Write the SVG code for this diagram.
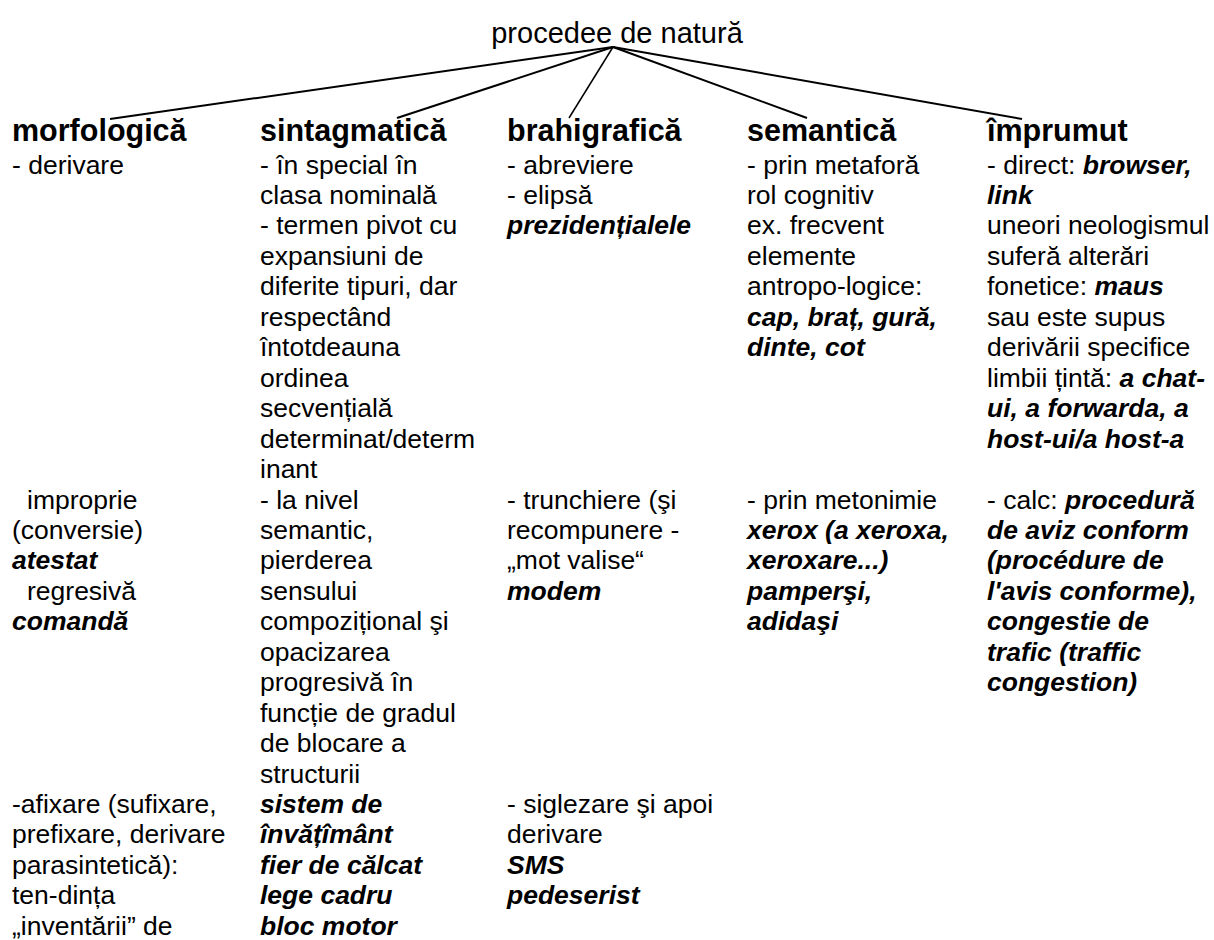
<svg xmlns="http://www.w3.org/2000/svg" width="1214" height="940" viewBox="0 0 1214 940">
<style>
text{font-family:"Liberation Sans",Arial,sans-serif;fill:#000}
.t{font-size:29px}
.h{font-size:30.5px;font-weight:bold}
.b{font-size:26.5px}
.bi{font-weight:bold;font-style:italic}
.c{stroke:#000;stroke-width:2;fill:none}
</style>
<rect width="1214" height="940" fill="#fff"/>
<g id="root"><text class="t" x="617" y="43" text-anchor="middle">procedee de natură</text></g>
<g id="connectors">
<line class="c" x1="613" y1="47" x2="110" y2="119"/>
<line class="c" x1="613" y1="47" x2="397" y2="118"/>
<line class="c" x1="613" y1="47" x2="569" y2="118" style="stroke-width:1.5"/>
<line class="c" x1="613" y1="47" x2="807" y2="118"/>
<line class="c" x1="613" y1="47" x2="1022" y2="119"/>
</g>
<g id="morfologica">
<text class="h" x="12" y="141">morfologică</text>
<text class="b">
<tspan x="12" y="173.5">- derivare</tspan>
<tspan x="27" y="508.5">improprie</tspan>
<tspan x="12" y="538.9">(conversie)</tspan>
<tspan x="12" y="569.4" class="bi">atestat</tspan>
<tspan x="27" y="599.8">regresivă</tspan>
<tspan x="12" y="630.3" class="bi">comandă</tspan>
<tspan x="12" y="813">-afixare (sufixare,</tspan>
<tspan x="12" y="843.4">prefixare, derivare</tspan>
<tspan x="12" y="873.9">parasintetică):</tspan>
<tspan x="12" y="904.3">ten-dința</tspan>
<tspan x="12" y="934.8">„inventării” de</tspan>
</text>
</g>
<g id="sintagmatica">
<text class="h" x="260" y="141">sintagmatică</text>
<text class="b">
<tspan x="260" y="173.5">- în special în</tspan>
<tspan x="260" y="204">clasa nominală</tspan>
<tspan x="260" y="234.4">- termen pivot cu</tspan>
<tspan x="260" y="264.9">expansiuni de</tspan>
<tspan x="260" y="295.3">diferite tipuri, dar</tspan>
<tspan x="260" y="325.8">respectând</tspan>
<tspan x="260" y="356.2">întotdeauna</tspan>
<tspan x="260" y="386.7">ordinea</tspan>
<tspan x="260" y="417.1">secvențială</tspan>
<tspan x="260" y="447.6">determinat/determ</tspan>
<tspan x="260" y="478">inant</tspan>
<tspan x="260" y="508.5">- la nivel</tspan>
<tspan x="260" y="538.9">semantic,</tspan>
<tspan x="260" y="569.4">pierderea</tspan>
<tspan x="260" y="599.8">sensului</tspan>
<tspan x="260" y="630.3">compozițional şi</tspan>
<tspan x="260" y="660.7">opacizarea</tspan>
<tspan x="260" y="691.2">progresivă în</tspan>
<tspan x="260" y="721.6">funcție de gradul</tspan>
<tspan x="260" y="752.1">de blocare a</tspan>
<tspan x="260" y="782.5">structurii</tspan>
<tspan x="260" y="813" class="bi">sistem de</tspan>
<tspan x="260" y="843.4" class="bi">învățîmânt</tspan>
<tspan x="260" y="873.9" class="bi">fier de călcat</tspan>
<tspan x="260" y="904.3" class="bi">lege cadru</tspan>
<tspan x="260" y="934.8" class="bi">bloc motor</tspan>
</text>
</g>
<g id="brahigrafica">
<text class="h" x="507" y="141">brahigrafică</text>
<text class="b">
<tspan x="507" y="173.5">- abreviere</tspan>
<tspan x="507" y="204">- elipsă</tspan>
<tspan x="507" y="234.4" class="bi">prezidențialele</tspan>
<tspan x="507" y="508.5">- trunchiere (şi</tspan>
<tspan x="507" y="538.9">recompunere -</tspan>
<tspan x="507" y="569.4">„mot valise“</tspan>
<tspan x="507" y="599.8" class="bi">modem</tspan>
<tspan x="507" y="813">- siglezare şi apoi</tspan>
<tspan x="507" y="843.4">derivare</tspan>
<tspan x="507" y="873.9" class="bi">SMS</tspan>
<tspan x="507" y="904.3" class="bi">pedeserist</tspan>
</text>
</g>
<g id="semantica">
<text class="h" x="747" y="141">semantică</text>
<text class="b">
<tspan x="747" y="173.5">- prin metaforă</tspan>
<tspan x="747" y="204">rol cognitiv</tspan>
<tspan x="747" y="234.4">ex. frecvent</tspan>
<tspan x="747" y="264.9">elemente</tspan>
<tspan x="747" y="295.3">antropo-logice:</tspan>
<tspan x="747" y="325.8" class="bi">cap, braț, gură,</tspan>
<tspan x="747" y="356.2" class="bi">dinte, cot</tspan>
<tspan x="747" y="508.5">- prin metonimie</tspan>
<tspan x="747" y="538.9" class="bi">xerox (a xeroxa,</tspan>
<tspan x="747" y="569.4" class="bi">xeroxare...)</tspan>
<tspan x="747" y="599.8" class="bi">pamperşi,</tspan>
<tspan x="747" y="630.3" class="bi">adidaşi</tspan>
</text>
</g>
<g id="imprumut">
<text class="h" x="987" y="141">împrumut</text>
<text class="b">
<tspan x="987" y="173.5">- direct: <tspan class="bi">browser,</tspan></tspan>
<tspan x="987" y="204" class="bi">link</tspan>
<tspan x="987" y="234.4">uneori neologismul</tspan>
<tspan x="987" y="264.9">suferă alterări</tspan>
<tspan x="987" y="295.3">fonetice: <tspan class="bi">maus</tspan></tspan>
<tspan x="987" y="325.8">sau este supus</tspan>
<tspan x="987" y="356.2">derivării specifice</tspan>
<tspan x="987" y="386.7">limbii țintă: <tspan class="bi">a chat-</tspan></tspan>
<tspan x="987" y="417.1" class="bi">ui, a forwarda, a</tspan>
<tspan x="987" y="447.6" class="bi">host-ui/a host-a</tspan>
<tspan x="987" y="508.5">- calc: <tspan class="bi">procedură</tspan></tspan>
<tspan x="987" y="538.9" class="bi">de aviz conform</tspan>
<tspan x="987" y="569.4" class="bi">(procédure de</tspan>
<tspan x="987" y="599.8" class="bi">l'avis conforme),</tspan>
<tspan x="987" y="630.3" class="bi">congestie de</tspan>
<tspan x="987" y="660.7" class="bi">trafic (traffic</tspan>
<tspan x="987" y="691.2" class="bi">congestion)</tspan>
</text>
</g>
</svg>
